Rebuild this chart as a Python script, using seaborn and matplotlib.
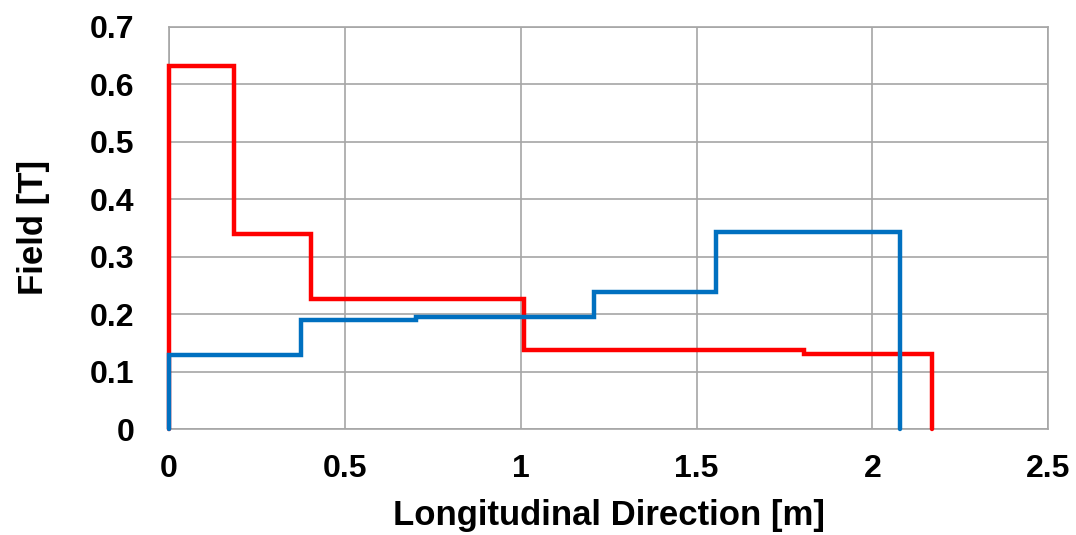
import matplotlib
matplotlib.use("Agg")
import matplotlib.pyplot as plt
import matplotlib.ticker as mticker
import seaborn as sns
import pandas as pd

# step profiles: segment edges along z [m] and field level on each segment [T]
red_edges = [0.0, 0.186, 0.405, 1.008, 1.806, 2.168]
red_levels = [0.632, 0.340, 0.227, 0.138, 0.130]
blue_edges = [0.0, 0.376, 0.702, 1.208, 1.554, 2.079]
blue_levels = [0.128, 0.190, 0.195, 0.239, 0.343]

x_ticks = [0, 0.5, 1, 1.5, 2, 2.5]
y_ticks = [0, 0.1, 0.2, 0.3, 0.4, 0.5, 0.6, 0.7]


def step_points(edges, levels, name):
    # corner points of the outline, starting and ending on zero
    xs, ys = [edges[0]], [0.0]
    for i, v in enumerate(levels):
        xs += [edges[i], edges[i + 1]]
        ys += [v, v]
    xs.append(edges[-1])
    ys.append(0.0)
    return pd.DataFrame({"z": xs, "B": ys, "series": name})


df = pd.concat([step_points(red_edges, red_levels, "red"),
                step_points(blue_edges, blue_levels, "blue")],
               ignore_index=True)

sns.set_style("white")
plt.rcParams['font.family'] = ['Liberation Sans', 'DejaVu Sans']
plt.rcParams['font.weight'] = 'bold'
plt.rcParams['text.color'] = 'black'
plt.rcParams['axes.labelcolor'] = 'black'

fig = plt.figure(figsize=(10.76, 5.35), dpi=100)
ax = fig.add_axes([0.1571, 0.1981, 0.8172, 0.7519])

sns.lineplot(data=df, x="z", y="B", hue="series", hue_order=["red", "blue"],
             palette={"red": "#ff0000", "blue": "#0070c0"},
             estimator=None, sort=False, linewidth=3.2, legend=False, ax=ax)
for i, ln in enumerate(ax.lines):
    ln.set_clip_on(False)
    ln.set_solid_joinstyle("miter")
    ln.set_zorder(3 + i)

ax.set_xlim(0, 2.5)
ax.set_ylim(0, 0.7)
ax.set_xticks(x_ticks)
ax.set_yticks(y_ticks)
fmt = mticker.FuncFormatter(lambda v, p: "%g" % v)
ax.xaxis.set_major_formatter(fmt)
ax.yaxis.set_major_formatter(fmt)

grid_c = "#a6a6a6"
ax.grid(True, color=grid_c, linewidth=1.2)
ax.set_axisbelow(True)
for s in ax.spines.values():
    s.set_color(grid_c)
    s.set_linewidth(1.2)
ax.tick_params(axis="both", direction="out", length=8, width=1.2, color=grid_c,
               labelsize=23, labelcolor="black")
ax.tick_params(axis="x", pad=10)
ax.tick_params(axis="y", pad=17)
for lab in ax.get_xticklabels() + ax.get_yticklabels():
    lab.set_fontweight("bold")

ax.set_xlabel("Longitudinal Direction [m]", fontsize=25, fontweight="bold",
              color="black", labelpad=11)
ax.set_ylabel("Field [T]", fontsize=25, fontweight="bold",
              color="black", labelpad=29)

fig.savefig("out.png", dpi=100)
